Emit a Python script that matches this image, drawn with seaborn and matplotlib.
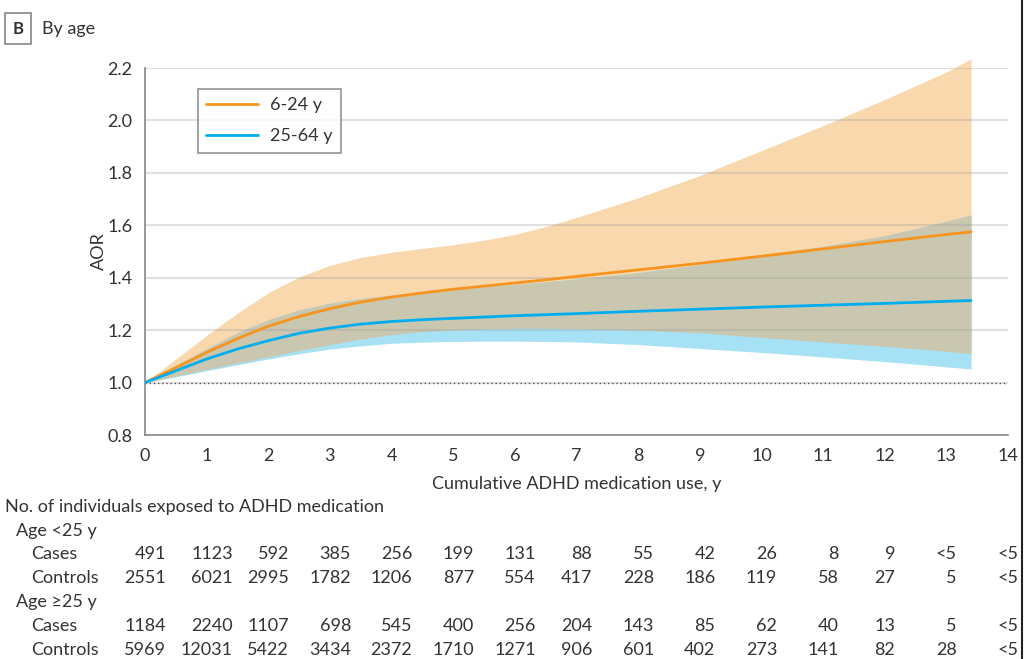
import matplotlib
matplotlib.use('Agg')
import matplotlib.pyplot as plt
import matplotlib.transforms as mtransforms
from matplotlib.lines import Line2D
import numpy as np
import seaborn as sns

# --- Data ---
years = [0, 0.5, 1, 1.5, 2, 2.5, 3, 3.5, 4, 4.5, 5, 5.5, 6, 6.5, 7, 8, 9, 10, 11, 12, 13, 13.4]

young_aor = [1.0, 1.057, 1.115, 1.168, 1.215, 1.252, 1.282, 1.307, 1.326, 1.342, 1.356,
             1.368, 1.38, 1.392, 1.405, 1.43, 1.455, 1.482, 1.51, 1.538, 1.565, 1.575]
young_hi = [1.0, 1.09, 1.18, 1.265, 1.343, 1.403, 1.447, 1.477, 1.497, 1.512, 1.526,
            1.543, 1.565, 1.595, 1.63, 1.705, 1.79, 1.885, 1.98, 2.08, 2.185, 2.235]
young_lo = [1.0, 1.025, 1.05, 1.075, 1.098, 1.122, 1.145, 1.166, 1.183, 1.194, 1.201,
            1.205, 1.207, 1.207, 1.206, 1.20, 1.19, 1.172, 1.155, 1.138, 1.12, 1.11]

adult_aor = [1.0, 1.045, 1.09, 1.128, 1.16, 1.188, 1.208, 1.223, 1.233, 1.24, 1.245,
             1.25, 1.255, 1.259, 1.263, 1.272, 1.28, 1.288, 1.295, 1.302, 1.31, 1.313]
adult_hi = [1.0, 1.065, 1.13, 1.19, 1.24, 1.277, 1.303, 1.321, 1.334, 1.345, 1.355,
            1.365, 1.375, 1.385, 1.395, 1.42, 1.45, 1.485, 1.52, 1.56, 1.615, 1.64]
adult_lo = [1.0, 1.022, 1.045, 1.068, 1.09, 1.11, 1.128, 1.14, 1.15, 1.154, 1.157,
            1.158, 1.158, 1.157, 1.155, 1.145, 1.13, 1.115, 1.098, 1.08, 1.06, 1.052]

table_years = list(range(15))
young_cases = ['491', '1123', '592', '385', '256', '199', '131', '88', '55', '42', '26', '8', '9', '<5', '<5']
young_controls = ['2551', '6021', '2995', '1782', '1206', '877', '554', '417', '228', '186', '119', '58', '27', '5', '<5']
adult_cases = ['1184', '2240', '1107', '698', '545', '400', '256', '204', '143', '85', '62', '40', '13', '5', '<5']
adult_controls = ['5969', '12031', '5422', '3434', '2372', '1710', '1271', '906', '601', '402', '273', '141', '82', '28', '<5']

# --- Styling ---
sns.set_theme(style="white")
plt.rcParams['font.family'] = ['Lato', 'DejaVu Sans']
TXT = '#333333'
ORANGE = '#F7941E'
BLUE = '#00AEEF'
ORANGE_FILL = '#F9D8AE'
BLUE_FILL = '#A7E1F6'
OVERLAP_FILL = '#CAC7B0'
FS = 13

fig = plt.figure(figsize=(10.24, 6.59), dpi=100)
ax = fig.add_axes([0.1416, 0.3399, 0.8428, 0.5569])

x = np.array(years)
ax.fill_between(x, young_lo, young_hi, color=ORANGE_FILL, lw=0, zorder=1, clip_on=False)
ax.fill_between(x, adult_lo, adult_hi, color=BLUE_FILL, lw=0, zorder=1)
ax.fill_between(x, np.maximum(young_lo, adult_lo), np.minimum(young_hi, adult_hi),
                color=OVERLAP_FILL, lw=0, zorder=1)

sns.lineplot(x=years, y=young_aor, color=ORANGE, lw=2, ax=ax, zorder=3)
sns.lineplot(x=years, y=adult_aor, color=BLUE, lw=2, ax=ax, zorder=3)
ax.axhline(1.0, color='#555555', lw=1, ls=(0, (1, 2)), zorder=2)

ax.set_xlim(0, 14)
ax.set_ylim(0.8, 2.2)
ax.set_xticks(range(15))
ax.set_yticks([0.8, 1.0, 1.2, 1.4, 1.6, 1.8, 2.0, 2.2])
ax.set_yticklabels(['0.8', '1.0', '1.2', '1.4', '1.6', '1.8', '2.0', '2.2'])
ax.set_axisbelow('line')
ax.yaxis.grid(True, color='#999999', alpha=0.3, lw=1.5)
for s in ['top', 'right']:
    ax.spines[s].set_visible(False)
for s in ['left', 'bottom']:
    ax.spines[s].set_color('#888888')
    ax.spines[s].set_linewidth(1.2)
ax.tick_params(axis='both', direction='out', length=6, width=1.2, color='#888888',
               labelsize=FS, labelcolor=TXT, pad=3)
ax.set_xlabel('Cumulative ADHD medication use, y', fontsize=FS, color=TXT, labelpad=9)
ax.set_ylabel('AOR', fontsize=FS, color=TXT, labelpad=0)

handles = [Line2D([0], [0], color=ORANGE, lw=2), Line2D([0], [0], color=BLUE, lw=2)]
leg = ax.legend(handles, ['6-24 y', '25-64 y'], loc='upper left',
                bbox_to_anchor=(0.0614, 0.943), borderaxespad=0, fontsize=FS, frameon=True,
                fancybox=False, handlelength=2.9, handletextpad=0.65, borderpad=0.45,
                labelspacing=0.85)
leg.get_frame().set_edgecolor('#777777')
leg.get_frame().set_linewidth(1.2)
for t in leg.get_texts():
    t.set_color(TXT)

# --- Title ---
fig.text(0.0176, 0.956, 'B', fontsize=12, fontweight='bold', color=TXT, va='center', ha='center',
         bbox=dict(boxstyle='square,pad=0.45', fc='white', ec='#888888', lw=1.2))
fig.text(0.041, 0.956, 'By age', fontsize=FS, color=TXT, va='center')

# --- Number-at-risk table ---
def fy(py):
    return 1 - py / 659

fig.text(5 / 1024, fy(507), 'No. of individuals exposed to ADHD medication', fontsize=FS, color=TXT, va='center')
fig.text(16 / 1024, fy(531), 'Age <25 y', fontsize=FS, color=TXT, va='center')
fig.text(16 / 1024, fy(602), 'Age \u226525 y', fontsize=FS, color=TXT, va='center')
rows = [(554, 'Cases', young_cases), (578, 'Controls', young_controls),
        (626, 'Cases', adult_cases), (650, 'Controls', adult_controls)]
for py, name, _ in rows:
    fig.text(31 / 1024, fy(py), name, fontsize=FS, color=TXT, va='center')

fig.canvas.draw()
renderer = fig.canvas.get_renderer()
blend = mtransforms.blended_transform_factory(ax.transData, fig.transFigure)
for j, yr in enumerate(table_years):
    texts = [fig.text(0, 0, vals[j], fontsize=FS, color=TXT, va='center', ha='right')
             for _, _, vals in rows]
    w = max(t.get_window_extent(renderer).width for t in texts)
    trans = mtransforms.offset_copy(blend, fig=fig, x=w / 2, units='dots')
    for t, (py, _, _) in zip(texts, rows):
        t.set_transform(trans)
        t.set_position((yr, fy(py)))

fig.add_artist(Line2D([0.9985, 0.9985], [0, 1], transform=fig.transFigure, color='#222222', lw=1.5))

fig.savefig('out.png', dpi=100)
